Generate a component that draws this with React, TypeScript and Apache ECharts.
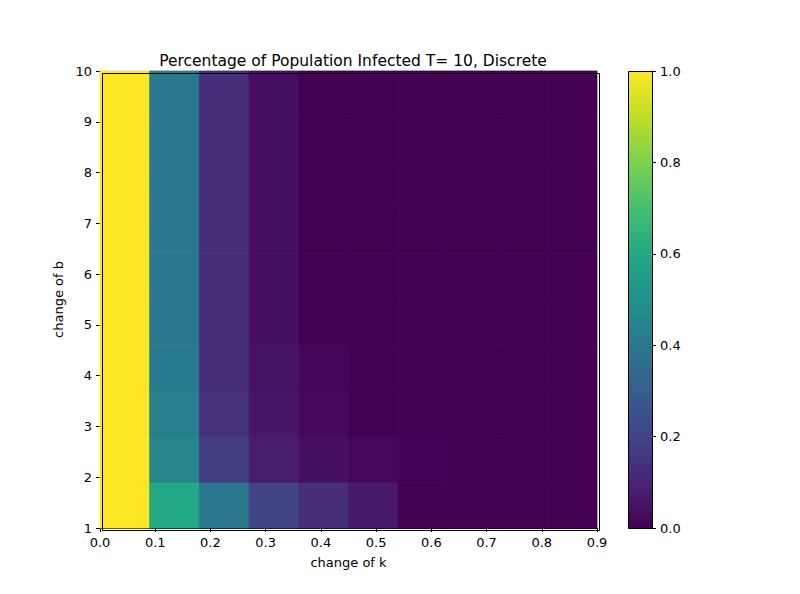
import * as echarts from 'echarts'
import React, { useEffect, useRef } from 'react'

// k values (left edge of each column) and b values (bottom edge of each row)
const kValues = [0.0, 0.09, 0.18, 0.27, 0.36, 0.45, 0.54, 0.63, 0.72, 0.81]
const bValues = [1.0, 1.9, 2.8, 3.7, 4.6, 5.5, 6.4, 7.3, 8.2, 9.1]
// infected[col][row], row 0 = bottom
const infected = [
  [1.0, 1.0, 1.0, 1.0, 1.0, 1.0, 1.0, 1.0, 1.0, 1.0],
  [0.6, 0.45, 0.42, 0.41, 0.4, 0.4, 0.4, 0.4, 0.4, 0.4],
  [0.4, 0.18, 0.14, 0.13, 0.13, 0.13, 0.13, 0.13, 0.13, 0.13],
  [0.2, 0.08, 0.06, 0.05, 0.04, 0.04, 0.04, 0.04, 0.04, 0.04],
  [0.13, 0.04, 0.02, 0.015, 0.0, 0.0, 0.0, 0.0, 0.0, 0.0],
  [0.07, 0.02, 0.0, 0.0, 0.0, 0.0, 0.0, 0.0, 0.0, 0.0],
  [0.0, 0.005, 0.0, 0.0, 0.0, 0.0, 0.0, 0.0, 0.0, 0.0],
  [0.0, 0.0, 0.0, 0.0, 0.0, 0.0, 0.0, 0.0, 0.0, 0.0],
  [0.0, 0.0, 0.0, 0.0, 0.0, 0.0, 0.0, 0.0, 0.0, 0.0],
  [0.0, 0.0, 0.0, 0.0, 0.0, 0.0, 0.0, 0.0, 0.0, 0.0]
]
const kStep = 0.09
const bStep = 0.9
const viridis = ['#440154', '#482475', '#414487', '#355f8d', '#2a788e', '#21918c', '#22a884', '#44bf70', '#7ad151', '#bddf26', '#fde725']

const font = 'DejaVu Sans'

const App: React.FC = () => {
  const chartRef = useRef<HTMLDivElement>(null)

  useEffect(() => {
    const chart = echarts.init(chartRef.current!, null, { renderer: 'svg' })
    const data: number[][] = []
    kValues.forEach((k, i) => bValues.forEach((b, j) => data.push([k, b, infected[i][j]])))

    const axisCommon = {
      axisLine: { onZero: false, lineStyle: { color: '#000' } },
      axisTick: { inside: false, length: 4, lineStyle: { color: '#000' } },
      axisLabel: { color: '#000', fontFamily: font, fontSize: 13 },
      splitLine: { show: false },
      nameTextStyle: { color: '#000', fontFamily: font, fontSize: 13 }
    }

    chart.setOption({
      animation: false,
      title: {
        text: 'Percentage of Population Infected T= 10, Discrete',
        left: 348, top: 48, textAlign: 'center',
        textStyle: { fontFamily: font, fontSize: 15.5, fontWeight: 'normal', color: '#000' }
      },
      grid: [
        { left: 100, right: 203, top: 71, bottom: 66 },
        { left: 628, width: 24, top: 71, bottom: 66 }
      ],
      xAxis: [
        { ...axisCommon, type: 'value', gridIndex: 0, min: 0, max: 0.9, interval: 0.1,
          name: 'change of k', nameLocation: 'middle', nameGap: 28,
          axisLabel: { ...axisCommon.axisLabel, formatter: (v: number) => v.toFixed(1) } },
        { type: 'value', gridIndex: 1, min: 0, max: 1, show: false }
      ],
      yAxis: [
        { ...axisCommon, type: 'value', gridIndex: 0, min: 1, max: 10, interval: 1,
          name: 'change of b', nameLocation: 'middle', nameGap: 30 },
        { ...axisCommon, type: 'value', gridIndex: 1, min: 0, max: 1, interval: 0.2, position: 'right',
          axisLabel: { ...axisCommon.axisLabel, formatter: (v: number) => v.toFixed(1) } }
      ],
      visualMap: {
        show: false, min: 0, max: 1, dimension: 2, seriesIndex: 0,
        inRange: { color: viridis }
      },
      graphic: [
        {
          type: 'rect', left: 628, top: 71, z: 0,
          shape: { width: 24, height: 457 },
          style: {
            fill: new echarts.graphic.LinearGradient(0, 1, 0, 0,
              viridis.map((c, i) => ({ offset: i / (viridis.length - 1), color: c }))),
            stroke: '#000', lineWidth: 1
          }
        },
        {
          type: 'rect', left: 100, top: 71, z: 100, silent: true,
          shape: { width: 497, height: 457 },
          style: { fill: 'none', stroke: '#000', lineWidth: 1 }
        }
      ],
      series: [
        {
          type: 'custom',
          xAxisIndex: 0, yAxisIndex: 0,
          data,
          renderItem: (params: any, api: any) => {
            const k = api.value(0)
            const b = api.value(1)
            const p0 = api.coord([k, b + bStep])
            const p1 = api.coord([k + kStep, b])
            const c = api.visual('color')
            return {
              type: 'rect',
              shape: { x: p0[0], y: p0[1], width: p1[0] - p0[0], height: p1[1] - p0[1] },
              style: { fill: c, stroke: c, lineWidth: 0.8 }
            }
          }
        }
      ]
    })
    return () => chart.dispose()
  }, [])

  return <div ref={chartRef} style={{ width: 800, height: 594, margin: -8 }} />
}

export default App
